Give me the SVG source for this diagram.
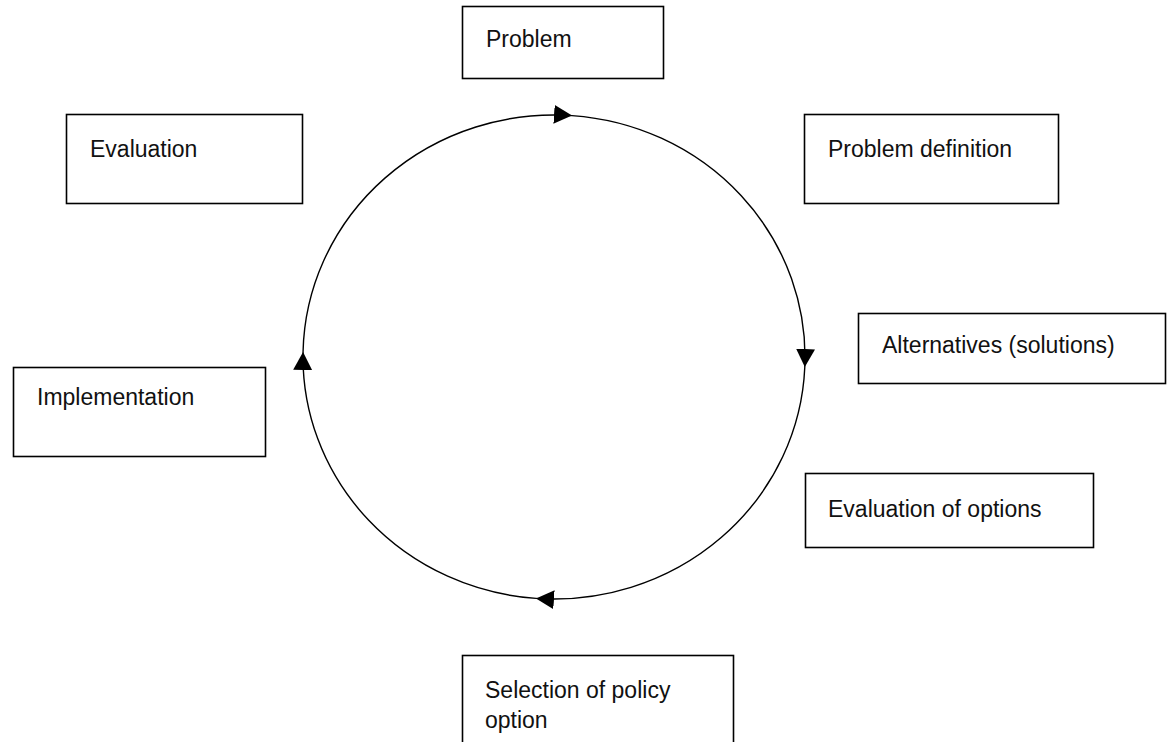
<svg xmlns="http://www.w3.org/2000/svg" width="1172" height="742" viewBox="0 0 1172 742">
<style>
.box{fill:#fff;stroke:#000;stroke-width:1.6}
.lbl{font-family:"Liberation Sans",Arial,sans-serif;font-size:23px;fill:#111}
.arc{fill:none;stroke:#000;stroke-width:1.4;marker-end:url(#arr)}
</style>
<defs>
<marker id="arr" markerUnits="userSpaceOnUse" markerWidth="18" markerHeight="19" refX="18" refY="9.5" orient="auto" viewBox="0 0 18 19">
<path d="M0,0 L18,9.5 L0,19 z" fill="#000"/>
</marker>
</defs>
<rect width="1172" height="742" fill="#fff"/>
<g id="connectors">
<path class="arc" d="M303.05,352 A251,242 0 0 1 572,115.6"/>
<path class="arc" d="M572,115.6 A251,242 0 0 1 804.8,367"/>
<path class="arc" d="M804.8,367 A251,242 0 0 1 536,598.4"/>
<path class="arc" d="M536,598.4 A251,242 0 0 1 303.05,352"/>
</g>
<g id="problem">
<rect class="box" x="462.5" y="6.5" width="201" height="72"/>
<text class="lbl" x="486" y="47">Problem</text>
</g>
<g id="problem-definition">
<rect class="box" x="804.5" y="114.5" width="254" height="89"/>
<text class="lbl" x="828" y="157">Problem definition</text>
</g>
<g id="alternatives">
<rect class="box" x="858.5" y="313.5" width="307" height="70"/>
<text class="lbl" x="882" y="353">Alternatives (solutions)</text>
</g>
<g id="evaluation-of-options">
<rect class="box" x="805.5" y="473.5" width="288" height="74"/>
<text class="lbl" x="828" y="517">Evaluation of options</text>
</g>
<g id="selection">
<rect class="box" x="462.5" y="655.5" width="271" height="100"/>
<text class="lbl" x="485" y="698">Selection of policy</text>
<text class="lbl" x="485" y="728">option</text>
</g>
<g id="implementation">
<rect class="box" x="13.5" y="367.5" width="252" height="89"/>
<text class="lbl" x="37" y="405">Implementation</text>
</g>
<g id="evaluation">
<rect class="box" x="66.5" y="114.5" width="236" height="89"/>
<text class="lbl" x="90" y="157">Evaluation</text>
</g>
</svg>
